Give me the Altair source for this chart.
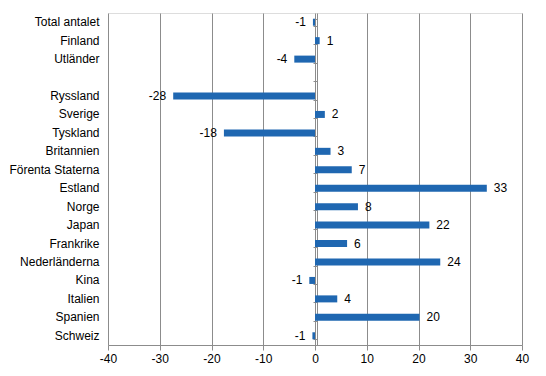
import altair as alt
import pandas as pd

categories = ["Total antalet", "Finland", "Utländer", " ", "Ryssland", "Sverige", "Tyskland",
              "Britannien", "Förenta Staterna", "Estland", "Norge", "Japan", "Frankrike",
              "Nederländerna", "Kina", "Italien", "Spanien", "Schweiz"]
values = [-0.4, 0.9, -4.0, None, -27.4, 1.9, -17.6, 3.0, 7.1, 33.2, 8.3, 22.1, 6.2,
          24.2, -1.1, 4.3, 20.2, -0.5]
labels = ["-1", "1", "-4", "", "-28", "2", "-18", "3", "7", "33", "8", "22", "6",
          "24", "-1", "4", "20", "-1"]
x_ticks = [-40, -30, -20, -10, 0, 10, 20, 30, 40]

df = pd.DataFrame({"cat": categories, "val": values, "lab": labels})

FONT = "Liberation Sans"
GRID = "#8c8c8c"
BAR = "#1f67b1"

x_enc = alt.X("val:Q", scale=alt.Scale(domain=[-40, 40], nice=False, zero=False),
              axis=alt.Axis(values=x_ticks, title=None, grid=True, gridColor=GRID,
                            domainColor=GRID, tickColor=GRID, tickSize=5,
                            labelFont=FONT, labelFontSize=12, labelColor="#000000",
                            labelPadding=3, labelFlush=False,
                            labelExpr="'' + datum.value"))
y_scale = alt.Scale(domain=categories, paddingInner=0.62, paddingOuter=0.31)

bars = alt.Chart(df).transform_filter("datum.val != null").mark_bar(color=BAR).encode(
    x=x_enc,
    y=alt.Y("cat:N", sort=categories, scale=y_scale,
            axis=alt.Axis(title=None, ticks=False, domain=False, labelFont=FONT,
                          labelFontSize=12, labelColor="#000000", labelPadding=9,
                          orient="left")),
)

zero_axis = alt.Chart(df).mark_bar(opacity=0).encode(
    x=alt.X("val:Q"),
    y=alt.Y("cat:N", sort=categories, scale=y_scale,
            axis=alt.Axis(title=None, labels=False, ticks=True, domain=True,
                          tickBand="extent", tickSize=4, tickColor=GRID,
                          domainColor=GRID, offset=-209, grid=False, orient="left")),
)

pos_text = alt.Chart(df).transform_filter("datum.val != null && datum.val >= 0").mark_text(
    align="left", baseline="middle", dx=7, font=FONT, fontSize=12, color="#000000"
).encode(x="val:Q", y=alt.Y("cat:N", sort=categories, scale=y_scale, axis=None),
         text="lab:N")

neg_text = alt.Chart(df).transform_filter("datum.val != null && datum.val < 0").mark_text(
    align="right", baseline="middle", dx=-7, font=FONT, fontSize=12, color="#000000"
).encode(x="val:Q", y=alt.Y("cat:N", sort=categories, scale=y_scale, axis=None),
         text="lab:N")

chart = alt.layer(bars, zero_axis, pos_text, neg_text).resolve_axis(
    y="independent"
).properties(
    width=414, height=332,
    autosize=alt.AutoSizeParams(type="none"),
    padding={"left": 100, "top": 5, "right": 16, "bottom": 23},
).configure_view(stroke=None).configure(background="#ffffff")

chart.save("out.html", embed_options={"renderer": "svg", "actions": False})
